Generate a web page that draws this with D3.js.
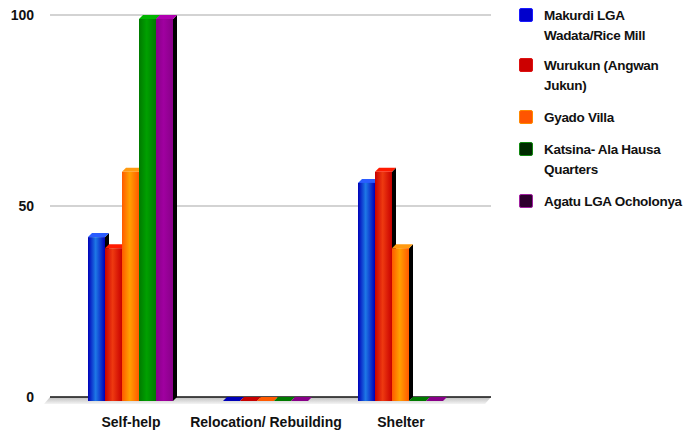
<!DOCTYPE html>
<html>
<head>
<meta charset="utf-8">
<script src="https://cdn.jsdelivr.net/npm/d3@7"></script>
<style>
  html, body { margin: 0; padding: 0; background: #fff; }
  svg { display: block; }
  text { font-family: "Liberation Sans", Arial, sans-serif; font-weight: bold; fill: #111; }
</style>
</head>
<body>
<svg id="chart" width="689" height="434"></svg>
<script>
// Categories along the x axis
const categories = ["Self-help", "Relocation/ Rebuilding", "Shelter"];

// One series per community (percentage of respondents)
const seriesNames = [
  ["Makurdi LGA", "Wadata/Rice Mill"],
  ["Wurukun (Angwan", "Jukun)"],
  ["Gyado Villa"],
  ["Katsina- Ala Hausa", "Quarters"],
  ["Agatu LGA Ocholonya"]
];
const makurdi  = [42.9, 0, 57.1];
const wurukun  = [40, 0, 60];
const gyado    = [60, 0, 40];
const katsina  = [100, 0, 0];
const agatu    = [100, 0, 0];
const seriesValues = [makurdi, wurukun, gyado, katsina, agatu];

const yTicks = [0, 50, 100];

// Face colours for each series: front gradient (dark, light), top face, legend swatch
const palette = [
  { dark: "#0000b8", light: "#1e78e6", top: "#2a5cff", key: "#0000cc", keyEdge: "#1a1aff" },
  { dark: "#c80000", light: "#ee3a10", top: "#ff1a00", key: "#cc0000", keyEdge: "#dd1111" },
  { dark: "#ff5a00", light: "#ffa000", top: "#ff9a10", key: "#ff5500", keyEdge: "#ff8800" },
  { dark: "#007a00", light: "#00a000", top: "#00b400", key: "#002a00", keyEdge: "#118811" },
  { dark: "#880088", light: "#a000a0", top: "#b000b0", key: "#2e002e", keyEdge: "#a020a0" }
];

const svg = d3.select("#chart");
const defs = svg.append("defs");

palette.forEach((p, i) => {
  const g = defs.append("linearGradient").attr("id", "front" + i)
    .attr("x1", "0%").attr("x2", "100%").attr("y1", "0%").attr("y2", "0%");
  g.append("stop").attr("offset", "0%").attr("stop-color", p.dark);
  g.append("stop").attr("offset", "45%").attr("stop-color", p.light);
  g.append("stop").attr("offset", "100%").attr("stop-color", p.dark);
});
const floorGrad = defs.append("linearGradient").attr("id", "floor")
  .attr("x1", "0%").attr("x2", "0%").attr("y1", "0%").attr("y2", "100%");
floorGrad.append("stop").attr("offset", "0%").attr("stop-color", "#bdbdbd");
floorGrad.append("stop").attr("offset", "100%").attr("stop-color", "#f4f4f4");

// Back wall scale and 3D depth of the bars
const y = d3.scaleLinear().domain([0, 100]).range([397, 15]);
const depthX = 4, depthY = 4;
const wallLeft = 50, wallRight = 491;

const x0 = d3.scaleBand().domain(categories).range([63, 468]);
const x1 = d3.scaleBand().domain(d3.range(seriesNames.length)).range([-42.5, 42.5]);

// Floor under the bars
svg.append("path")
  .attr("d", `M${wallLeft},${y(0)} L${wallRight},${y(0)} L${wallRight - depthX - 2},${y(0) + depthY + 3} L${wallLeft - depthX - 2},${y(0) + depthY + 3} Z`)
  .attr("fill", "url(#floor)");

// Gridlines on the back wall
svg.append("g").selectAll("line").data(yTicks).join("line")
  .attr("x1", wallLeft).attr("x2", wallRight)
  .attr("y1", d => y(d)).attr("y2", d => y(d))
  .attr("stroke", d => d === 0 ? "#111" : "#a8a8a8")
  .attr("stroke-width", d => d === 0 ? 1.5 : 1.2);

// Y axis labels
svg.append("g").selectAll("text").data(yTicks).join("text")
  .attr("x", 34).attr("y", d => y(d)).attr("dy", "0.36em")
  .attr("text-anchor", "end").attr("font-size", 14)
  .text(d => d);

// Bars, drawn left to right so each front face covers the previous side face
const bars = svg.append("g");
categories.forEach((cat, ci) => {
  const cx = x0(cat) + x0.bandwidth() / 2;
  seriesValues.forEach((vals, si) => {
    const v = vals[ci];
    const p = palette[si];
    const left = cx + x1(si);
    const w = x1.bandwidth();
    const base = y(0) + depthY;
    const top = y(v) + depthY;
    const g = bars.append("g");
    if (v > 0) {
      // right side face
      g.append("path")
        .attr("d", `M${left + w},${top} L${left + w + depthX},${top - depthY} L${left + w + depthX},${base - depthY} L${left + w},${base} Z`)
        .attr("fill", "#000");
      // top face
      g.append("path")
        .attr("d", `M${left},${top} L${left + depthX},${top - depthY} L${left + w + depthX},${top - depthY} L${left + w},${top} Z`)
        .attr("fill", p.top);
      // front face
      g.append("rect")
        .attr("x", left).attr("y", top)
        .attr("width", w).attr("height", base - top)
        .attr("fill", `url(#front${si})`);
    } else {
      // zero-height bar: just a flat slab on the floor
      g.append("path")
        .attr("d", `M${left},${base} L${left + depthX},${base - depthY} L${left + w + depthX},${base - depthY} L${left + w},${base} Z`)
        .attr("fill", p.dark);
    }
  });
});

// Category labels
svg.append("g").selectAll("text").data(categories).join("text")
  .attr("x", d => x0(d) + x0.bandwidth() / 2 + 0.5)
  .attr("y", 427)
  .attr("text-anchor", "middle").attr("font-size", 14)
  .text(d => d);

// Legend
const legendTop = [8, 58, 110, 142, 194];
const legend = svg.append("g");
seriesNames.forEach((lines, i) => {
  const p = palette[i];
  legend.append("rect")
    .attr("x", 519.5).attr("y", legendTop[i] + 0.5)
    .attr("width", 13).attr("height", 13).attr("rx", 1.5)
    .attr("fill", p.key).attr("stroke", p.keyEdge).attr("stroke-width", 1);
  const t = legend.append("text")
    .attr("x", 544).attr("y", legendTop[i] + 12)
    .attr("font-size", 13.5).attr("letter-spacing", "-0.3px");
  lines.forEach((line, li) => {
    t.append("tspan").attr("x", 544).attr("dy", li === 0 ? 0 : 20).text(line);
  });
});
</script>
</body>
</html>
